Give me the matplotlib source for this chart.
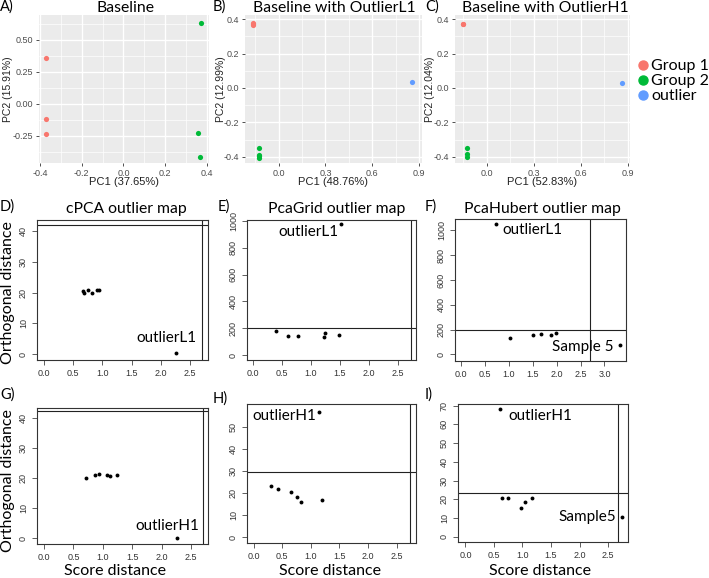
import numpy as np
import matplotlib
matplotlib.use('Agg')
import matplotlib.pyplot as plt
from matplotlib.lines import Line2D

W, H = 709, 578
TXT = ['Lato', 'DejaVu Sans']
NUM = ['Liberation Sans', 'DejaVu Sans']

# ---- top row: PCA scores (ggplot style) ----
a_g1_x = [-0.371, -0.373, -0.370]
a_g1_y = [0.362, -0.120, -0.237]
a_g2_x = [0.371, 0.358, 0.368]
a_g2_y = [0.630, -0.224, -0.416]

b_g1_x = [-0.168, -0.165, -0.167]
b_g1_y = [0.372, 0.365, 0.376]
b_g2_x = [-0.128, -0.130, -0.126, -0.128]
b_g2_y = [-0.349, -0.390, -0.407, -0.398]
b_out_x = [0.855]
b_out_y = [0.035]

c_g1_x = [-0.153, -0.151]
c_g1_y = [0.370, 0.374]
c_g2_x = [-0.128, -0.130, -0.126]
c_g2_y = [-0.350, -0.385, -0.400]
c_out_x = [0.860]
c_out_y = [0.030]

# ---- outlier maps: score distance / orthogonal distance ----
d_sd = [0.675, 0.69, 0.75, 0.82, 0.90, 0.935, 2.26]
d_od = [20.4, 19.7, 20.8, 19.9, 20.8, 20.8, 0.2]
e_sd = [0.40, 0.61, 0.78, 1.22, 1.25, 1.48, 1.52]
e_od = [179, 141, 141, 136, 166, 149, 975]
f_sd = [0.73, 1.035, 1.51, 1.68, 1.89, 1.98, 3.33]
f_od = [1051, 129, 158, 166, 158, 169, 72]
g_sd = [0.72, 0.86, 0.93, 1.075, 1.13, 1.24, 2.26]
g_od = [20.1, 21.0, 21.3, 21.0, 20.8, 21.0, 0.2]
h_sd = [0.31, 0.43, 0.66, 0.75, 0.835, 1.20, 1.15]
h_od = [23.2, 22.0, 20.5, 18.0, 15.9, 16.8, 56.5]
i_sd = [0.605, 0.645, 0.74, 0.97, 1.04, 1.17, 2.74]
i_od = [68.1, 20.7, 20.7, 15.5, 18.7, 20.5, 10.4]

# cutoffs (score, orthogonal)
cut_d = (2.70, 42.0)
cut_e = (2.72, 201)
cut_f = (2.70, 193)
cut_g = (2.70, 42.2)
cut_h = (2.74, 29.5)
cut_i = (2.68, 23.5)

RED, GREEN, BLUE = '#F8766D', '#00BA38', '#619CFF'


def box(l, t, r, b):
	return [l / W, 1 - b / H, (r - l) / W, (b - t) / H]


def ftext(x, y, s, **kw):
	kw.setdefault('family', TXT)
	fig.text(x / W, 1 - y / H, s, **kw)


def gg_panel(ax, series, xlim, ylim, xmaj, ymaj, xlab, ylab):
	ax.set_facecolor('#EBEBEB')
	for s in ax.spines.values():
		s.set_visible(False)
	xmin = [(xmaj[i] + xmaj[i + 1]) / 2 for i in range(len(xmaj) - 1)]
	xmin = [xmaj[0] - (xmaj[1] - xmaj[0]) / 2] + xmin + [xmaj[-1] + (xmaj[1] - xmaj[0]) / 2]
	ymin = [(ymaj[i] + ymaj[i + 1]) / 2 for i in range(len(ymaj) - 1)]
	ymin = [ymaj[0] - (ymaj[1] - ymaj[0]) / 2] + ymin + [ymaj[-1] + (ymaj[1] - ymaj[0]) / 2]
	for v in xmin:
		ax.axvline(v, color='white', lw=0.5, zorder=0)
	for v in ymin:
		ax.axhline(v, color='white', lw=0.5, zorder=0)
	for v in xmaj:
		ax.axvline(v, color='white', lw=1.0, zorder=0)
	for v in ymaj:
		ax.axhline(v, color='white', lw=1.0, zorder=0)
	for xs, ys, c in series:
		ax.scatter(xs, ys, s=14, color=c, zorder=3, linewidths=0)
	ax.set_xlim(xlim)
	ax.set_ylim(ylim)
	ax.set_xticks(xmaj)
	ax.set_yticks(ymaj)
	ax.set_xticklabels(xlab, family=NUM)
	ax.set_yticklabels(ylab, family=NUM)
	ax.tick_params(length=2.5, width=0.6, color='#333333', labelcolor='#4D4D4D',
		labelsize=6.5, pad=1.5)


def r_panel(ax, sd, od, xlim, ylim, xt, yt, cut, labels):
	ax.plot(sd, od, 'o', color='k', ms=2.8, mew=0)
	ax.axvline(cut[0], color='#222222', lw=0.8)
	ax.axhline(cut[1], color='#222222', lw=0.8)
	ax.set_xlim(xlim)
	ax.set_ylim(ylim)
	ax.set_xticks(xt)
	ax.set_yticks(yt)
	ax.set_xticklabels(['%.1f' % v for v in xt], family=NUM)
	ax.set_yticklabels([str(v) for v in yt], family=NUM, rotation=90, va='center')
	ax.tick_params(direction='out', length=3.5, width=0.6, color='#444444',
		labelcolor='#333333', labelsize=6.5, pad=3)
	for s in ax.spines.values():
		s.set_linewidth(0.8)
		s.set_color('#333333')
	for s, x, y, ha in labels:
		ax.text(x, y, s, ha=ha, va='center', family=TXT, fontsize=11)


fig = plt.figure(figsize=(W / 100, H / 100), dpi=100)

axA = fig.add_axes(box(39, 15, 209, 163))
gg_panel(axA, [(a_g1_x, a_g1_y, RED), (a_g2_x, a_g2_y, GREEN)],
	(-0.405, 0.41), (-0.461, 0.695), [-0.4, -0.2, 0.0, 0.2, 0.4], [-0.25, 0.0, 0.25, 0.5],
	['-0.4', '-0.2', '0.0', '0.2', '0.4'], ['-0.25', '0.00', '0.25', '0.50'])
axB = fig.add_axes(box(245, 15, 422, 163))
gg_panel(axB, [(b_g1_x, b_g1_y, RED), (b_g2_x, b_g2_y, GREEN), (b_out_x, b_out_y, BLUE)],
	(-0.217, 0.92), (-0.436, 0.424), [0.0, 0.3, 0.6, 0.9], [-0.4, -0.2, 0.0, 0.2, 0.4],
	['0.0', '0.3', '0.6', '0.9'], ['-0.4', '-0.2', '0.0', '0.2', '0.4'])
axC = fig.add_axes(box(455, 15, 630, 163))
gg_panel(axC, [(c_g1_x, c_g1_y, RED), (c_g2_x, c_g2_y, GREEN), (c_out_x, c_out_y, BLUE)],
	(-0.204, 0.913), (-0.436, 0.424), [0.0, 0.3, 0.6, 0.9], [-0.4, -0.2, 0.0, 0.2, 0.4],
	['0.0', '0.3', '0.6', '0.9'], ['-0.4', '-0.2', '0.0', '0.2', '0.4'])

handles = [Line2D([], [], ls='', marker='o', ms=6.5, color=c) for c in (RED, GREEN, BLUE)]
fig.legend(handles, ['Group 1', 'Group 2', 'outlier'], loc='upper left',
	bbox_to_anchor=(639 / W, 1 - 59 / H), frameon=False, handlelength=0.45,
	handletextpad=0.3, labelspacing=0.05, borderpad=0, borderaxespad=0,
	prop={'family': TXT, 'size': 11.5})

axD = fig.add_axes(box(37, 220, 208, 360))
r_panel(axD, d_sd, d_od, (-0.12, 2.806), (-1.95, 43.6), [0.0, 0.5, 1.0, 1.5, 2.0, 2.5],
	[0, 10, 20, 30, 40], cut_d, [('outlierL1', 2.1, 5.2, 'center')])
axE = fig.add_axes(box(247, 220, 416, 360))
r_panel(axE, e_sd, e_od, (-0.103, 2.81), (-37, 1007), [0.0, 0.5, 1.0, 1.5, 2.0, 2.5],
	[0, 200, 400, 600, 800, 1000], cut_e, [('outlierL1', 1.47, 920, 'right')])
axF = fig.add_axes(box(455, 219, 626, 361))
r_panel(axF, f_sd, f_od, (-0.125, 3.45), (-54, 1092), [0.0, 0.5, 1.0, 1.5, 2.0, 2.5, 3.0],
	[0, 200, 400, 600, 800, 1000], cut_f,
	[('outlierL1', 0.86, 1005, 'left'), ('Sample 5', 3.18, 59, 'right')])
axG = fig.add_axes(box(37, 408, 208, 544))
r_panel(axG, g_sd, g_od, (-0.12, 2.79), (-1.9, 43.2), [0.0, 0.5, 1.0, 1.5, 2.0, 2.5],
	[0, 10, 20, 30, 40], cut_g, [('outlierH1', 2.09, 4.2, 'center')])
axH = fig.add_axes(box(247, 404, 416, 543))
r_panel(axH, h_sd, h_od, (-0.116, 2.84), (-2.7, 60.3), [0.0, 0.5, 1.0, 1.5, 2.0, 2.5],
	[0, 10, 20, 30, 40, 50], cut_h, [('outlierH1', 1.10, 54.9, 'right')])
axI = fig.add_axes(box(458, 404, 628, 542))
r_panel(axI, i_sd, i_od, (-0.13, 2.85), (-2.7, 70.8), [0.0, 0.5, 1.0, 1.5, 2.0, 2.5],
	[0, 10, 20, 30, 40, 50, 60, 70], cut_i,
	[('outlierH1', 0.75, 64.5, 'left'), ('Sample5', 2.64, 10.4, 'right')])

# titles
for x, y, s in [(126, 8, 'Baseline'), (334, 8, 'Baseline with OutlierL1'),
		(545, 8, 'Baseline with OutlierH1'), (126, 209, 'cPCA outlier map'),
		(337, 209, 'PcaGrid outlier map'), (542, 209, 'PcaHubert outlier map')]:
	ftext(x, y, s, ha='center', va='center', fontsize=11.3)

# panel letters
for x, y, s in [(0, 7, 'A)'), (213, 7, 'B)'), (425, 7, 'C)'), (0, 207, 'D)'),
		(218, 207, 'E)'), (425, 207, 'F)'), (0, 395, 'G)'), (213, 399, 'H)'), (425, 395, 'I)')]:
	ftext(x, y, s, ha='left', va='center', fontsize=10.5)

# axis labels
for x, s in [(124, 'PC1 (37.65%)'), (333, 'PC1 (48.76%)'), (542, 'PC1 (52.83%)')]:
	ftext(x, 182, s, ha='center', va='center', fontsize=8, family=NUM, color='#222222')
for x, s in [(8, 'PC2 (15.91%)'), (221, 'PC2 (12.99%)'), (430, 'PC2 (12.04%)')]:
	ftext(x, 89, s, ha='center', va='center', fontsize=7.5, family=NUM, color='#222222', rotation=90)
for y in (293, 481):
	ftext(8, y, 'Orthogonal distance', ha='center', va='center', fontsize=11.5, rotation=90)
for x in (115, 330, 540):
	ftext(x, 571, 'Score distance', ha='center', va='center', fontsize=11.5)

fig.savefig('out.png', dpi=100)
